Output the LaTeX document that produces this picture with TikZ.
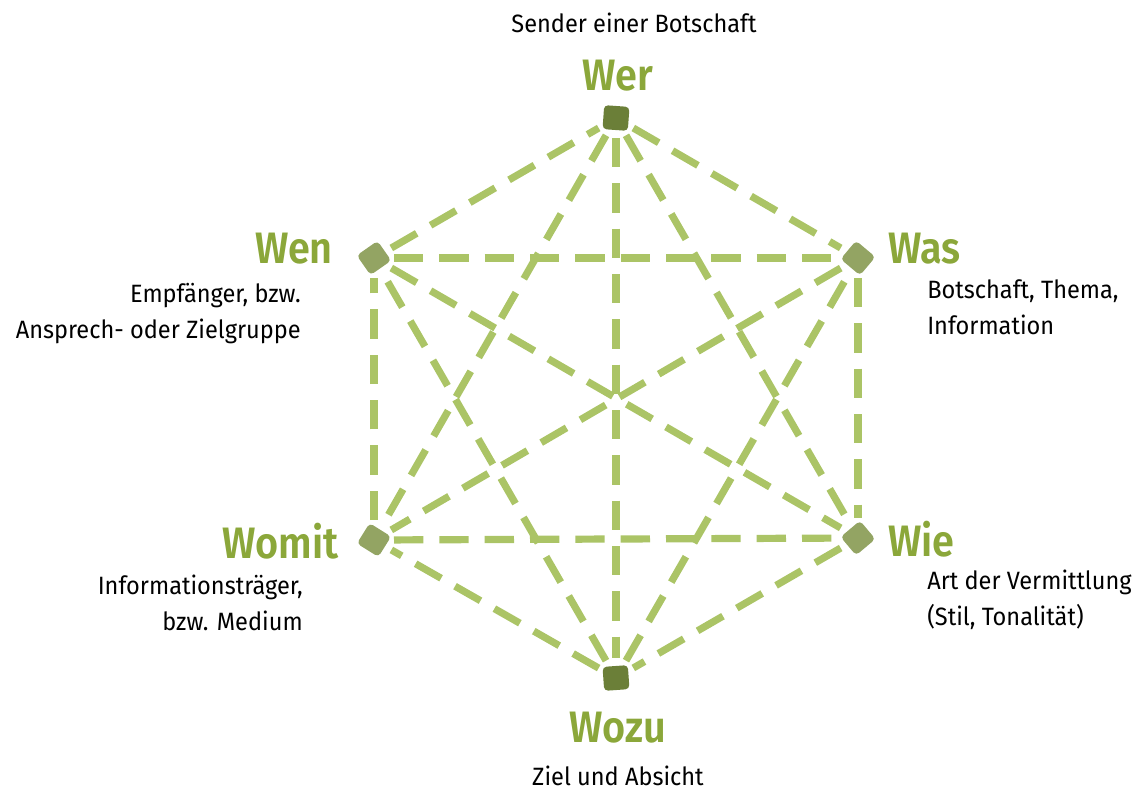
\documentclass[tikz,border=0pt]{standalone}
\usepackage{fontspec}
\setmainfont{Fira Sans}
\newfontfamily\hdfont[FakeStretch=0.9]{Fira Sans SemiBold}
\newfontfamily\txfont[FakeStretch=0.94]{Fira Sans}
\definecolor{linegreen}{HTML}{ABC466}
\definecolor{titlegreen}{HTML}{8BA73A}
\definecolor{darksq}{HTML}{6B7F38}
\definecolor{lightsq}{HTML}{93A463}
\tikzset{
  sq/.style={draw=none, rectangle, rounded corners=3pt, minimum width=19pt, minimum height=18pt, inner sep=0pt},
  conn/.style={draw=linegreen, line width=5.4pt, dash pattern=on 22pt off 12pt, shorten <=15pt, shorten >=15pt},
  title/.style={text=titlegreen, font=\hdfont\fontsize{33}{36}\selectfont, inner sep=0pt},
  desc/.style={text=black, font=\txfont\fontsize{18.8}{27}\selectfont, inner sep=0pt, align=left},
}
\begin{document}
\begin{tikzpicture}[x=0.75pt,y=-0.75pt]
\useasboundingbox (0,0) rectangle (1147,790);
\coordinate (wer) at (616,118);
\coordinate (was) at (858,258);
\coordinate (wie) at (858,538);
\coordinate (wozu) at (616,678);
\coordinate (womit) at (374,540);
\coordinate (wen) at (374,258);
% hexagon edges
\draw[conn] (wer) -- (was);
\draw[conn] (was) -- (wie);
\draw[conn] (wie) -- (wozu);
\draw[conn] (wozu) -- (womit);
\draw[conn] (womit) -- (wen);
\draw[conn] (wen) -- (wer);
% long diagonals
\draw[conn] (wer) -- (wozu);
\draw[conn] (wen) -- (wie);
\draw[conn] (was) -- (womit);
% short diagonals
\draw[conn] (wen) -- (was);
\draw[conn] (womit) -- (wie);
\draw[conn] (wer) -- (womit);
\draw[conn] (wer) -- (wie);
\draw[conn] (wozu) -- (wen);
\draw[conn] (wozu) -- (was);
% squares
\node[sq, fill=darksq, rotate=-4] (sqwer) at (wer) {};
\node[sq, fill=darksq, rotate=4] (sqwozu) at (wozu) {};
\node[sq, fill=lightsq, rotate=35] (sqwen) at (wen) {};
\node[sq, fill=lightsq, rotate=-40] (sqwas) at (was) {};
\node[sq, fill=lightsq, rotate=40] (sqwie) at (wie) {};
\node[sq, fill=lightsq, rotate=-32] (sqwomit) at (womit) {};
% titles
\node[title, anchor=base] (twer) at (618,90) {Wer};
\node[title, anchor=base east] (twen) at (333,263) {Wen};
\node[title, anchor=base west] (twas) at (888,263) {Was};
\node[title, anchor=base east] (twomit) at (339,558) {Womit};
\node[title, anchor=base west] (twie) at (888,556) {Wie};
\node[title, anchor=base] (twozu) at (618,742) {Wozu};
% descriptions
\node[desc, anchor=base] (dwer) at (634,32) {Sender einer Botschaft};
\node[desc, anchor=base] (dwozu) at (618,785) {Ziel und Absicht};
\node[desc, anchor=north east, align=right] (dwen) at (301,283) {Empfänger, bzw.\\Ansprech- oder Zielgruppe};
\node[desc, anchor=north west] (dwas) at (927,279) {Botschaft, Thema,\\Information};
\node[desc, anchor=north east, align=right] (dwomit) at (303,575) {Informationsträger,\\bzw. Medium};
\node[desc, anchor=north west] (dwie) at (927,570) {Art der Vermittlung\\(Stil, Tonalität)};
\end{tikzpicture}
\end{document}
